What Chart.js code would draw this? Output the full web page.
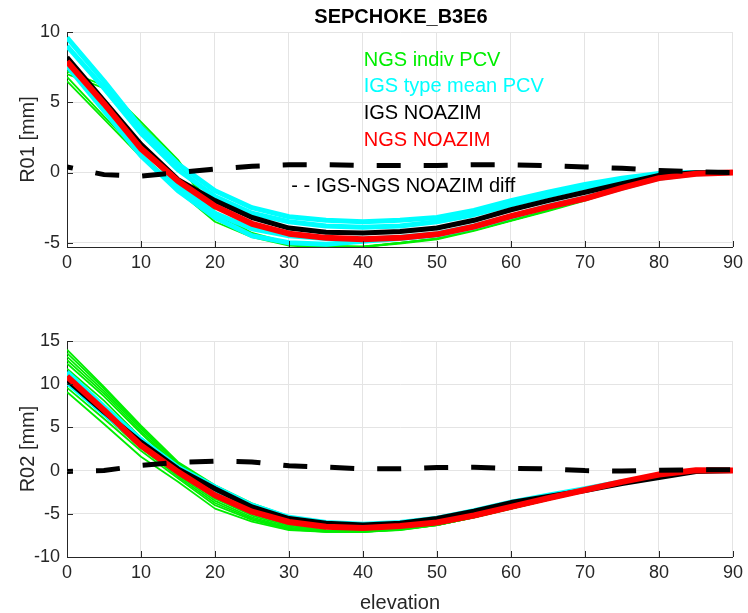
<!DOCTYPE html>
<html>
<head>
<meta charset="utf-8">
<script src="https://cdn.jsdelivr.net/npm/chart.js@4/dist/chart.umd.min.js"></script>
<style>
  html, body { margin: 0; padding: 0; background: #fff; }
  #top { position: absolute; left: 0; top: 0; width: 748px; height: 290px; }
  #bot { position: absolute; left: 0; top: 290px; width: 748px; height: 323px; }
</style>
</head>
<body>
<div id="top"><canvas id="r01"></canvas></div>
<div id="bot"><canvas id="r02"></canvas></div>
<script>
// elevation grid (deg)
const elev = [0, 5, 10, 15, 20, 25, 30, 35, 40, 45, 50, 55, 60, 65, 70, 75, 80, 85, 90];

// R01 [mm]
const r01NgsIndiv = [
  [7.2, 6.2, 3.6, 0.9, -2.8, -4.3, -5.0, -5.2, -5.25, -5.0, -4.7, -4.1, -3.4, -2.7, -1.95, -1.1, -0.45, -0.1, 0],
  [7.0, 6.0, 3.4, 0.7, -3.0, -4.4, -5.1, -5.3, -5.3, -5.05, -4.75, -4.15, -3.45, -2.75, -2.0, -1.15, -0.45, -0.1, 0],
  [6.8, 4.0, 1.3, -1.1, -3.3, -4.5, -5.15, -5.3, -5.3, -5.0, -4.7, -4.1, -3.4, -2.7, -1.95, -1.1, -0.45, -0.1, 0],
  [6.5, 3.8, 1.1, -1.3, -3.5, -4.6, -5.2, -5.35, -5.3, -5.0, -4.7, -4.1, -3.4, -2.7, -1.95, -1.1, -0.45, -0.1, 0]
];
const r01IgsType = [
  [9.6, 6.5, 3.2, 0.6, -1.3, -2.5, -3.15, -3.4, -3.5, -3.4, -3.2, -2.7, -2.0, -1.4, -0.85, -0.4, -0.07, 0, 0],
  [9.0, 6.0, 2.8, 0.2, -1.7, -2.9, -3.5, -3.8, -3.9, -3.8, -3.5, -3.0, -2.3, -1.65, -1.05, -0.55, -0.1, 0, 0],
  [8.0, 5.0, 1.9, -0.9, -2.9, -4.0, -4.5, -4.7, -4.75, -4.6, -4.35, -3.8, -3.1, -2.4, -1.8, -1.05, -0.35, -0.05, 0],
  [7.6, 4.4, 1.2, -1.3, -3.2, -4.5, -5.0, -5.1, -4.9, -4.7, -4.45, -3.9, -3.15, -2.45, -1.85, -1.1, -0.4, -0.08, 0]
];
const r01IgsNoazim = [8.2, 5.1, 2.0, -0.5, -2.0, -3.2, -3.95, -4.25, -4.3, -4.2, -3.95, -3.4, -2.65, -2.0, -1.4, -0.8, -0.2, -0.02, 0];
const r01NgsNoazim = [7.9, 4.9, 1.7, -0.6, -2.4, -3.65, -4.35, -4.65, -4.75, -4.65, -4.4, -3.85, -3.1, -2.45, -1.85, -1.1, -0.4, -0.08, 0];
const r01Diff = [0.4, -0.15, -0.25, 0.0, 0.25, 0.45, 0.55, 0.55, 0.5, 0.5, 0.5, 0.55, 0.55, 0.5, 0.4, 0.3, 0.15, 0.05, 0];

// R02 [mm]
const r02NgsIndiv = [
  [14.0, 9.7, 5.2, 1.0, -1.7, -3.8, -5.3, -6.0, -6.1, -5.9, -5.4, -4.6, -3.7, -2.9, -2.1, -1.3, -0.5, 0.0, 0],
  [13.6, 9.5, 5.0, 0.85, -1.95, -4.0, -5.45, -6.15, -6.25, -6.05, -5.55, -4.75, -3.8, -2.95, -2.15, -1.3, -0.5, 0.0, 0],
  [13.2, 9.2, 4.8, 0.7, -2.2, -4.2, -5.6, -6.3, -6.4, -6.2, -5.7, -4.9, -3.9, -3.0, -2.2, -1.35, -0.55, 0.0, 0],
  [12.8, 8.9, 4.55, 0.5, -2.4, -4.4, -5.8, -6.45, -6.55, -6.35, -5.85, -5.0, -4.0, -3.05, -2.25, -1.4, -0.55, 0.05, 0],
  [12.4, 8.6, 4.3, 0.3, -2.6, -4.6, -6.0, -6.6, -6.7, -6.5, -6.0, -5.1, -4.1, -3.1, -2.3, -1.4, -0.55, 0.05, 0],
  [11.8, 8.1, 3.8, 0.0, -3.0, -5.0, -6.3, -6.9, -7.0, -6.7, -6.2, -5.3, -4.3, -3.3, -2.35, -1.4, -0.5, 0.05, 0],
  [11.2, 7.5, 3.4, -0.25, -3.25, -5.2, -6.45, -6.95, -7.05, -6.75, -6.25, -5.35, -4.35, -3.3, -2.4, -1.45, -0.5, 0.05, 0],
  [10.6, 6.9, 3.0, -0.5, -3.5, -5.4, -6.6, -7.0, -7.1, -6.8, -6.3, -5.4, -4.4, -3.35, -2.4, -1.45, -0.5, 0.05, 0],
  [10.1, 6.4, 2.6, -0.7, -3.75, -5.55, -6.7, -7.05, -7.1, -6.85, -6.3, -5.4, -4.4, -3.4, -2.4, -1.45, -0.5, 0.05, 0],
  [9.6, 6.0, 2.3, -0.9, -4.0, -5.7, -6.8, -7.1, -7.1, -6.9, -6.3, -5.4, -4.4, -3.4, -2.4, -1.45, -0.5, 0.05, 0],
  [9.1, 5.4, 1.6, -1.3, -4.4, -5.9, -6.9, -7.1, -7.1, -6.8, -6.3, -5.4, -4.4, -3.4, -2.4, -1.4, -0.5, 0.0, 0]
];
const r02IgsType = [
  [11.4, 7.4, 3.6, 0.4, -1.9, -4.0, -5.4, -6.0, -6.2, -6.0, -5.5, -4.65, -3.65, -2.85, -2.1, -1.3, -0.6, -0.05, 0],
  [10.2, 6.6, 3.1, 0.0, -2.3, -4.4, -5.7, -6.3, -6.45, -6.25, -5.75, -4.9, -3.9, -3.05, -2.25, -1.4, -0.65, -0.05, 0]
];
const r02IgsNoazim = [10.5, 6.8, 3.3, 0.2, -2.1, -4.2, -5.55, -6.1, -6.3, -6.1, -5.55, -4.7, -3.7, -3.0, -2.3, -1.5, -0.8, -0.1, 0];
const r02NgsNoazim = [10.9, 7.0, 2.9, -0.15, -2.85, -4.75, -5.95, -6.5, -6.65, -6.4, -6.0, -5.2, -4.2, -3.2, -2.25, -1.3, -0.45, 0.05, 0];
const r02Diff = [-0.1, 0.0, 0.6, 0.95, 1.1, 1.0, 0.55, 0.4, 0.2, 0.2, 0.35, 0.4, 0.25, 0.2, 0.0, -0.05, 0.05, 0.1, 0.1];

const xTicks = [0, 90, 10];

Chart.defaults.font.family = '"Liberation Sans", Arial, Helvetica, sans-serif';
Chart.defaults.color = '#262626';

const pts = arr => elev.map((e, i) => ({ x: e, y: arr[i] }));
const line = (arr, color, width, order, extra) => Object.assign({
  data: pts(arr), borderColor: color, borderWidth: width, order: order,
  pointRadius: 0, tension: 0, fill: false, borderJoinStyle: 'round'
}, extra || {});

const buildDatasets = (indiv, type, igs, ngs, diff) => [
  ...indiv.map(a => line(a, '#00ee00', 1.8, 5)),
  ...type.map(a => line(a, '#00ffff', 5, 4)),
  line(igs, '#000000', 5, 3),
  line(ngs, '#ff0000', 6, 2),
  line(diff, '#000000', 5, 1, { borderDash: [24, 23], borderDashOffset: 18, borderJoinStyle: 'miter' })
];

// MATLAB style ticks pointing into the axes
const inwardTicks = {
  id: 'inwardTicks',
  afterDatasetsDraw(chart) {
    const { ctx, chartArea: a, scales: { x, y } } = chart;
    ctx.save();
    ctx.strokeStyle = '#262626';
    ctx.lineWidth = 1;
    ctx.beginPath();
    x.ticks.forEach(t => {
      const px = Math.round(x.getPixelForValue(t.value)) + 0.5;
      ctx.moveTo(px, a.bottom); ctx.lineTo(px, a.bottom - 6);
    });
    y.ticks.forEach(t => {
      const py = Math.round(y.getPixelForValue(t.value)) + 0.5;
      ctx.moveTo(a.left, py); ctx.lineTo(a.left + 6, py);
    });
    ctx.stroke();
    ctx.restore();
  }
};

// title and the text legend inside the upper axes
const topTexts = {
  id: 'topTexts',
  afterDraw(chart) {
    const { ctx, scales: { x, y } } = chart;
    ctx.save();
    ctx.textBaseline = 'middle';
    ctx.textAlign = 'center';
    ctx.fillStyle = '#000';
    ctx.font = 'bold 20px "Liberation Sans", Arial, sans-serif';
    ctx.fillText('SEPCHOKE_B3E6', 401, 17);
    ctx.textAlign = 'left';
    ctx.font = '20px "Liberation Sans", Arial, sans-serif';
    const lx = x.getPixelForValue(40.1);
    [['NGS indiv PCV', '#00ee00', 8.0], ['IGS type mean PCV', '#00ffff', 6.15],
     ['IGS NOAZIM', '#000000', 4.2], ['NGS NOAZIM', '#ff0000', 2.3]].forEach(([t, c, v]) => {
      ctx.fillStyle = c;
      ctx.fillText(t, lx, y.getPixelForValue(v));
    });
    ctx.fillStyle = '#000';
    ctx.fillText('- - IGS-NGS NOAZIM diff', x.getPixelForValue(30.3), y.getPixelForValue(-1.0));
    ctx.restore();
  }
};

const makeOptions = (yMin, yMax, yLabel, padTop, xHeight, xTitle) => ({
  responsive: true,
  maintainAspectRatio: false,
  animation: false,
  layout: { padding: { top: padTop, right: 11, left: 0, bottom: 0 } },
  plugins: { legend: { display: false }, tooltip: { enabled: false } },
  scales: {
    x: {
      type: 'linear', min: xTicks[0], max: xTicks[1],
      ticks: { stepSize: xTicks[2], font: { size: 18 }, padding: 5, color: '#262626' },
      grid: { color: '#e4e4e4', drawTicks: false },
      border: { color: '#262626', width: 1 },
      title: { display: !!xTitle, text: xTitle || '', font: { size: 20, lineHeight: 1 }, color: '#262626', padding: { top: 0, bottom: 0 } },
      afterFit: s => { s.height = xHeight; }
    },
    y: {
      min: yMin, max: yMax,
      ticks: { stepSize: 5, includeBounds: false, font: { size: 18 }, padding: 7, color: '#262626' },
      grid: { color: '#e4e4e4', drawTicks: false },
      border: { color: '#262626', width: 1 },
      title: { display: true, text: yLabel, font: { size: 20 }, color: '#262626', padding: { top: 16, bottom: 0 } },
      afterFit: s => { s.width = 67; }
    }
  }
});

new Chart(document.getElementById('r01'), {
  type: 'line',
  data: { datasets: buildDatasets(r01NgsIndiv, r01IgsType, r01IgsNoazim, r01NgsNoazim, r01Diff) },
  options: makeOptions(-5.3, 10, 'R01 [mm]', 32, 43, null),
  plugins: [inwardTicks, topTexts]
});

new Chart(document.getElementById('r02'), {
  type: 'line',
  data: { datasets: buildDatasets(r02NgsIndiv, r02IgsType, r02IgsNoazim, r02NgsNoazim, r02Diff) },
  options: makeOptions(-10, 15, 'R02 [mm]', 51, 56, 'elevation'),
  plugins: [inwardTicks]
});
</script>
</body>
</html>
